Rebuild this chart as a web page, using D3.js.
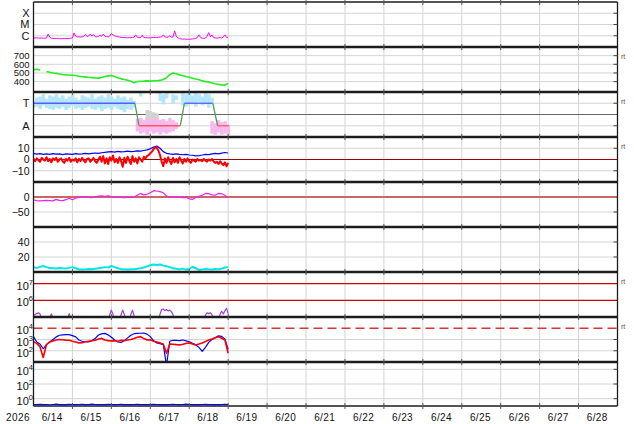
<!DOCTYPE html>
<html><head><meta charset="utf-8">
<script src="https://cdn.jsdelivr.net/npm/d3@7"></script>
<style>body{margin:0;background:#fff}svg{display:block}text{font-family:"Liberation Sans",Arial,sans-serif}</style>
</head><body>
<svg id="c" width="634" height="424"></svg>
<script>
// ---------- DATA (start 2026-06-14 00:00 UT) ----------
// X-ray flux, hourly, units of 1e-7 W/m2
const xrayE7 = [6.5,6.4,6.6,6.3,6.2,6.4,6.0,6.1,6.3,14,
7.5,6.0,5.8,5.6,5.7,5.5,5.6,5.4,5.5,5.8,
5.6,5.5,5.7,6.0,6.5,18,9.0,7.8,8.0,7.6,
8.2,9.0,13,8.5,9.5,14,9.0,13,8.4,8.0,
8.5,12,8.8,14,9.0,8.2,8.0,9.5,16,12,
10,9.0,8.2,7.6,7.2,7.0,6.8,6.9,6.6,6.8,
6.7,7.0,7.5,12,7.2,6.8,7.0,11,7.0,6.6,
6.8,6.5,6.6,6.8,7.2,7.0,6.9,7.3,7.6,8.0,
12,8.0,7.4,7.6,10,7.5,7.8,27,9.0,6.5,
5.6,5.2,5.0,5.1,4.9,5.0,4.8,5.0,5.2,5.4,
5.8,7.0,12,7.0,6.0,5.8,6.2,9.0,19,8.0,
12,7.0,6.5,6.0,6.6,7.0,6.2,8.0,12,7.0,7.5];
const xrayTicks = [1e-4,1e-5,1e-6];
const xrayLabels = ["X","M","C"];

// Solar wind speed, 2-hourly, km/s
const windSpeed = [540,542,536,null,518,508,500,495,488,482,478,476,474,470,462,458,455,450,446,442,440,448,460,466,470,458,445,432,425,415,405,388,402,405,406,408,406,410,410,414,425,445,480,500,490,478,468,460,450,440,430,422,410,400,395,385,375,368,362,360,378];
const speedTicks = [400,500,600,700];

// IMF sector (T=+1, A=-1)
const sectorHours = [0,62.5,65,90.5,93,110.5,113.5,120.5];
const sectorVals  = [1,1,-1,-1,1,1,-1,-1];
const sectorTicks = [1,-1];
const sectorLabels = ["T","A"];
// scatter bands, 2-hourly
const towardHi = [1.2,1.5,1.6,1.8,1.4,1.7,1.6,1.8,1.5,1.7,1.4,1.6,1.8,1.5,1.3,1.7,1.6,1.5,1.8,1.4,1.6,1.7,1.5,1.8,1.6,1.4,1.7,1.5,1.6,1.3,1.5,1.2,null,1.9,null,null,null,null,null,1.9,1.8,1.9,null,1.8,1.7,null,1.9,1.8,1.9,1.7,1.9,1.8,1.6,1.9,1.8,1.5,null,null,null,null,null];
const towardLo = [0.6,0.7,0.5,0.8,0.6,0.5,0.4,0.6,0.5,0.7,0.4,0.6,0.8,0.5,0.6,0.4,0.6,0.7,0.5,0.4,0.6,0.3,0.5,0.6,0.4,0.7,0.5,0.4,0.2,0.5,0.4,0.6,null,1.6,null,null,null,null,null,1.2,0.9,1.4,null,1.0,1.3,null,0.8,0.7,1.0,0.9,0.7,1.1,0.8,0.9,0.6,1.0,null,null,null,null,null];
const awayHi = [null,null,null,null,null,null,null,null,null,null,null,null,null,null,null,null,null,null,null,null,null,null,null,null,null,null,null,null,null,null,null,null,-0.4,-0.3,-0.5,-0.3,-0.6,-0.4,-0.3,-0.5,-0.4,-0.6,-0.3,-0.5,-0.7,null,null,null,null,null,null,null,null,null,null,-0.6,-0.8,-0.5,-0.7,-0.6,-0.9];
const awayLo = [null,null,null,null,null,null,null,null,null,null,null,null,null,null,null,null,null,null,null,null,null,null,null,null,null,null,null,null,null,null,null,null,-1.5,-1.7,-1.6,-1.8,-1.5,-1.7,-1.6,-1.8,-1.4,-1.7,-1.6,-1.5,-1.3,null,null,null,null,null,null,null,null,null,null,-1.7,-1.8,-1.6,-1.8,-1.7,-1.8];
const grayHi = [null,null,null,null,null,null,null,null,null,null,null,null,null,null,null,null,null,null,null,null,null,null,null,null,null,null,null,null,null,null,null,null,null,null,null,0.4,0.3,0.2,0.1,-0.7,-0.8,-0.9,null];
const grayLo = [null,null,null,null,null,null,null,null,null,null,null,null,null,null,null,null,null,null,null,null,null,null,null,null,null,null,null,null,null,null,null,null,null,null,null,-0.6,-1.0,-0.8,-1.1,-1.5,-1.6,-1.4,null];

// IMF Bt (2-hourly) and Bz (hourly), nT
const bt = [5.5,4.8,5.2,4.5,5.0,4.6,5.2,4.8,5.0,4.4,5.0,4.8,4.6,5.2,4.8,5.0,5.4,5.0,5.5,5.8,5.4,6.0,6.4,6.8,7.0,6.6,7.2,6.8,7.0,7.4,7.0,7.2,7.6,7.4,8.0,8.6,9.5,11.0,12.0,10.0,7.0,5.5,5.0,4.6,5.0,4.5,4.2,4.6,4.0,3.8,3.2,3.5,4.0,4.6,4.4,5.0,5.4,5.0,5.6,6.2,5.8];
const bz = [0.5,-1.5,1.0,-0.5,-2.0,1.5,0.0,-1.0,2.0,-1.5,
0.5,-2.5,1.0,-0.5,1.5,-2.0,0.0,1.0,-1.5,-3.0,
0.5,-1.0,1.5,-2.0,0.0,-1.0,1.0,-2.5,0.5,-1.5,
1.5,-1.0,-2.5,0.5,1.0,-2.0,-0.5,1.5,-1.5,-3.0,
0.0,2.5,-2.0,3.0,-3.5,1.0,-4.0,2.0,-1.0,3.5,
-2.5,0.5,-3.0,2.0,-1.5,-6.5,1.5,-3.0,2.5,-1.0,
-4.0,3.0,-2.0,1.0,-3.5,2.0,0.0,-2.0,2.5,1.0,
3.0,4.0,5.5,7.0,9.0,11.0,10.5,8.0,4.0,-2.0,
-6.0,1.0,-3.0,2.0,-1.5,-4.0,1.5,-2.5,0.5,-3.0,
2.0,-1.0,-3.5,0.5,-2.0,1.0,-1.5,-3.0,0.0,-1.0,
-2.0,0.5,-1.0,-0.5,-1.5,0.5,-1.0,-2.0,0.0,-1.0,
0.5,-1.5,-3.0,-2.0,-4.0,-1.5,-3.5,-5.0,-2.5,-6.0,-3.0];
const bTicks = [10,0,-10];
const bLabels = ["10","0","\u221210"];

// Dst index, 2-hourly, nT
const dst = [-10,-12,-13,-12,-11,-12,-13,-8,-11,-12,-9,-4,-9,-4,-1,0,1,-1,-2,0,3,4,2,4,1,-1,-1,-1,-2,-1,-1,0,6,12,7,9,14,21,20,18,14,3,0,-1,0,-1,-2,-1,-6,-8,-2,2,6,12,11,7,6,12,11,6,-3];
const dstTicks = [0,-50];
const dstLabels = ["0","\u221250"];

// Panel 6 index, 2-hourly
const kIndex = [6.2,5.5,6.8,8.0,6.5,5.2,5.0,4.6,5.4,5.0,4.8,5.5,6.5,5.0,3.6,3.2,3.5,4.0,3.8,4.4,5.0,5.8,6.5,6.0,8.0,6.5,5.0,3.8,3.6,3.4,3.8,3.6,4.2,5.0,6.0,7.5,9.0,10.0,9.2,10.0,8.5,7.8,6.5,5.0,4.2,3.5,4.5,3.2,4.0,7.0,5.0,2.7,3.5,4.0,3.6,3.4,4.0,3.6,4.5,6.0,6.5];
const kTicks = [40,20];

// Electron fluence, hourly
const electron = [1.2e5,1.4e5,1.6e5,1.8e5,1.5e5,8e4,6e4,6e4,6e4,7e4,
9e4,1.5e5,9e4,6e4,6e4,6e4,6e4,6e4,6e4,6e4,
6e4,8e4,1.6e5,8e4,6e4,6e4,6e4,6e4,6e4,6e4,
6e4,6e4,6e4,6e4,6e4,6e4,6e4,6e4,6e4,6e4,
6e4,6e4,6e4,6e4,6e4,6e4,6e4,1.4e5,2.6e5,1.4e5,
6e4,6e4,6e4,6e4,1.4e5,2.6e5,1.4e5,6e4,6e4,6e4,
1.4e5,2.6e5,1.2e5,6e4,6e4,6e4,6e4,6e4,6e4,6e4,
6e4,6e4,6e4,6e4,6e4,6e4,6e4,6e4,1.5e5,2.8e5,
3.0e5,2.4e5,2.8e5,2.3e5,2.6e5,2.1e5,1.4e5,6e4,6e4,6e4,
6e4,6e4,6e4,6e4,6e4,6e4,6e4,6e4,6e4,6e4,
6e4,6e4,6e4,6e4,6e4,6e4,1.3e5,1.8e5,1.6e5,1.8e5,
1.4e5,6e4,6e4,6e4,6e4,1.5e5,2.2e5,1.5e5,2.4e5,3.3e5,1.6e5];
const eTicks = [1e7,1e6];
const eExp = ["7","6"];

// Electron flux two channels, 2-hourly
const fluxBlue = [1800,600,400,150,350,600,1000,1700,2400,2600,2700,2700,2200,1700,900,700,650,620,800,1200,2500,3200,3500,2600,1600,900,600,550,800,1400,2400,3300,3500,3600,3800,3000,1800,800,500,420,350,5,700,850,820,800,900,750,630,450,330,200,90,200,550,1000,1400,2100,1900,1100,130];
const fluxRed = [630,450,230,25,350,600,750,900,1000,950,880,850,700,600,500,520,620,700,780,850,1100,1250,900,800,750,780,700,850,800,900,1000,1250,1600,1800,1200,900,950,700,600,500,400,60,400,380,350,330,380,450,490,400,330,400,500,650,900,1100,1400,1800,1300,900,60];
const fTicks = [1e4,1e3,1e2];
const fExp = ["4","3","2"];

// Proton flux, 2-hourly
const proton = [0.16,0.15,0.17,0.15,0.16,0.14,0.16,0.18,0.15,0.16,0.15,0.17,0.16,0.15,0.16,0.17,0.15,0.16,0.18,0.16,0.15,0.16,0.15,0.17,0.16,0.15,0.16,0.17,0.15,0.16,0.15,0.16,0.17,0.15,0.16,0.15,0.16,0.17,0.16,0.15,0.16,0.15,0.16,0.17,0.16,0.15,0.16,0.18,0.16,0.15,0.16,0.15,0.16,0.17,0.16,0.15,0.16,0.15,0.16,0.17,0.16];
const pTicks = [1e4,1e2,1e0];
const pExp = ["4","2","0"];

const dayLabels = ["6/14","6/15","6/16","6/17","6/18","6/19","6/20","6/21","6/22","6/23","6/24","6/25","6/26","6/27","6/28"];
const yearLabel = "2026";

// ---------- CHART ----------
const svg = d3.select("#c");
const t0 = Date.UTC(2026,5,14), HOUR = 3600e3, DAY = 86400e3;
const L = 33.5, R = 617.5;
const x = d3.scaleUtc().domain([new Date(t0), new Date(t0 + 15*DAY)]).range([L, R]);
const series = (arr, step) => arr.map((v,i) => ({t: new Date(t0 + i*step*HOUR), v}));

const tops = [2,47,92,137,182,227,272,317,362];
const bottoms = [47,92,137,182,227,272,317,362,406];
const ys = [
  d3.scaleLog().domain([1e-7,1e-3]).range([47,2]),
  d3.scaleLinear().domain([280,800]).range([92,47]),
  d3.scaleLinear().domain([-2,2]).range([137,92]),
  d3.scaleLinear().domain([-20,20]).range([182,137]),
  d3.scaleLinear().domain([-100,50]).range([227,182]),
  d3.scaleLinear().domain([0,60]).range([272,227]),
  d3.scaleLog().domain([1e5,5e7]).range([317,272]),
  d3.scaleLog().domain([10,1e5]).range([362,317]),
  d3.scaleLog().domain([0.1,1e5]).range([406,362])
];

const defs = svg.append("defs");
ys.forEach((y,i) => {
  defs.append("clipPath").attr("id","clip"+i).append("rect")
    .attr("x",L).attr("y",tops[i]).attr("width",R-L).attr("height",bottoms[i]-tops[i]);
});

const gGrid = svg.append("g");
const gData = svg.append("g");
const gFrame = svg.append("g");

// vertical day gridlines
const days = d3.range(1,15).map(k => new Date(t0 + k*DAY));
gGrid.selectAll("line.v").data(days).join("line")
  .attr("x1",d=>x(d)).attr("x2",d=>x(d)).attr("y1",2).attr("y2",406)
  .attr("stroke","#d4d4d4").attr("stroke-width",1);

// horizontal gridlines
const gridTicks = [xrayTicks, speedTicks, [1,-1], [10,-10], [-50], kTicks, [], [1e3,1e2], pTicks];
gridTicks.forEach((tk,i) => {
  tk.forEach(v => {
    gGrid.append("line").attr("x1",L).attr("x2",R).attr("y1",ys[i](v)).attr("y2",ys[i](v))
      .attr("stroke","#d4d4d4").attr("stroke-width",1);
  });
});
// special reference lines
gGrid.append("line").attr("x1",L).attr("x2",R).attr("y1",ys[2](0)).attr("y2",ys[2](0)).attr("stroke","#666").attr("stroke-width",1);
gGrid.append("line").attr("x1",L).attr("x2",R).attr("y1",ys[3](0)).attr("y2",ys[3](0)).attr("stroke","#990000").attr("stroke-width",1);
gGrid.append("line").attr("x1",L).attr("x2",R).attr("y1",ys[4](0)).attr("y2",ys[4](0)).attr("stroke","#cc6666").attr("stroke-width",2.2);
eTicks.forEach(v => gGrid.append("line").attr("x1",L).attr("x2",R).attr("y1",ys[6](v)).attr("y2",ys[6](v)).attr("stroke","#cc0000").attr("stroke-width",1.3));
gGrid.append("line").attr("x1",L).attr("x2",R).attr("y1",ys[7](1e4)).attr("y2",ys[7](1e4)).attr("stroke","#dd3333").attr("stroke-width",1.5).attr("stroke-dasharray","9,5");

function drawLine(i, data, color, width) {
  const y = ys[i];
  gData.append("path").datum(data)
    .attr("clip-path","url(#clip"+i+")")
    .attr("fill","none").attr("stroke",color).attr("stroke-width",width||1)
    .attr("stroke-linejoin","round")
    .attr("d", d3.line().defined(d=>d.v!=null).x(d=>x(d.t)).y(d=>y(d.v)));
}
function drawBand(i, hi, lo, color) {
  const y = ys[i];
  const data = hi.map((h,k)=>({t:new Date(t0+k*2*HOUR), h, l:lo[k]})).filter(d=>d.h!=null && d.l!=null);
  const w = x(new Date(t0+2*HOUR)) - x(new Date(t0));
  gData.append("g").attr("clip-path","url(#clip"+i+")").selectAll("rect").data(data).join("rect")
    .attr("x",d=>x(d.t)-w/2).attr("width",w+0.3)
    .attr("y",d=>y(d.h)).attr("height",d=>y(d.l)-y(d.h)).attr("fill",color);
}

// panel 1: X-ray
drawLine(0, series(xrayE7.map(v=>v*1e-7),1), "#ff00ff", 1);
// panel 2: wind speed
drawLine(1, series(windSpeed,2), "#22ee22", 1.6);
// panel 3: sector
drawBand(2, grayHi, grayLo, "#d2d2d2");
drawBand(2, towardHi, towardLo, "#b4e6fb");
drawBand(2, awayHi, awayLo, "#f7b8f0");
for (let k=0;k<sectorHours.length-1;k++){
  const a = sectorVals[k], b = sectorVals[k+1];
  const col = (a===b) ? (a>0 ? "#5a5aff" : "#ff5a5a") : "#559955";
  gData.append("line")
    .attr("x1",x(new Date(t0+sectorHours[k]*HOUR))).attr("x2",x(new Date(t0+sectorHours[k+1]*HOUR)))
    .attr("y1",ys[2](a)).attr("y2",ys[2](b)).attr("stroke",col).attr("stroke-width",1.3);
}
// panel 4: Bt, Bz
drawLine(3, series(bt,2), "#0000ff", 1.2);
drawLine(3, series(bz,1), "#ff0000", 2);
// panel 5: Dst
drawLine(4, series(dst,2), "#ee22ee", 1.2);
// panel 6
drawLine(5, series(kIndex,2), "#00e6e6", 2);
// panel 7
drawLine(6, series(electron,1), "#a040dd", 1.2);
// panel 8
drawLine(7, series(fluxBlue,2), "#0000ff", 1.2);
drawLine(7, series(fluxRed,2), "#ff0000", 1.6);
// panel 9
drawLine(8, series(proton,2), "#0000ff", 1.2);

// frame: separators
[47,92,137,182,227,272,317,362].forEach(yv => {
  gFrame.append("line").attr("x1",L).attr("x2",R).attr("y1",yv).attr("y2",yv).attr("stroke","#1c1c1c").attr("stroke-width",2.6);
});
[2,406].forEach(yv => gFrame.append("line").attr("x1",L).attr("x2",R).attr("y1",yv).attr("y2",yv).attr("stroke","#1c1c1c").attr("stroke-width",1.4));
[L,R].forEach(xv => gFrame.append("line").attr("x1",xv).attr("x2",xv).attr("y1",2).attr("y2",406).attr("stroke","#1c1c1c").attr("stroke-width",1.3));
// small ticks at day gridlines on separators
[2,47,92,137,182,227,272,317,362,406].forEach(yv => {
  days.forEach(d => gFrame.append("line").attr("x1",x(d)).attr("x2",x(d)).attr("y1",yv-3).attr("y2",yv+3).attr("stroke","#555").attr("stroke-width",1));
});
// right ticks at gridlines
gridTicks.forEach((tk,i) => tk.forEach(v => gFrame.append("line").attr("x1",R-4).attr("x2",R).attr("y1",ys[i](v)).attr("y2",ys[i](v)).attr("stroke","#444").attr("stroke-width",1)));

// y labels
function plainLabels(i, ticks, labels, fs) {
  ticks.forEach((v,k) => gFrame.append("text").attr("x",29.5).attr("y",ys[i](v)).attr("dy","0.36em")
    .attr("text-anchor","end").attr("font-family","'DejaVu Sans',Verdana,sans-serif")
    .attr("font-size",fs||10.5).attr("fill","#111").text(labels[k]));
}
function powLabels(i, ticks, exps) {
  ticks.forEach((v,k) => {
    const t = gFrame.append("text").attr("x",33).attr("y",ys[i](v)).attr("dy","0.38em")
      .attr("text-anchor","end").attr("font-family","'DejaVu Sans',Verdana,sans-serif").attr("fill","#111");
    t.append("tspan").attr("font-size",11).text("10");
    t.append("tspan").attr("font-size",7.5).attr("dy","-5").text(exps[k]);
  });
}
plainLabels(0, xrayTicks, xrayLabels, 11);
plainLabels(1, speedTicks, speedTicks.map(String), 9.5);
plainLabels(2, sectorTicks, sectorLabels, 11);
plainLabels(3, bTicks, bLabels);
plainLabels(4, dstTicks, dstLabels);
plainLabels(5, kTicks, kTicks.map(String));
powLabels(6, eTicks, eExp);
powLabels(7, fTicks, fExp);
powLabels(8, pTicks, pExp);

// rt marks
[1,2,3,6,7].forEach(i => gFrame.append("text").attr("x",621).attr("y",tops[i]+12).attr("font-size",7).attr("fill","#555").text("rt"));

// x labels
dayLabels.forEach((lab,k) => gFrame.append("text")
  .attr("x", x(new Date(t0 + k*DAY + 12*HOUR)) - 0.8).attr("y",420.5)
  .attr("text-anchor","middle").attr("font-size",10).attr("letter-spacing","0.4px").attr("fill","#111").text(lab));
gFrame.append("text").attr("x",18).attr("y",420.5).attr("text-anchor","middle").attr("font-size",10).attr("letter-spacing","0.4px").attr("fill","#111").text(yearLabel);
</script>
</body></html>
